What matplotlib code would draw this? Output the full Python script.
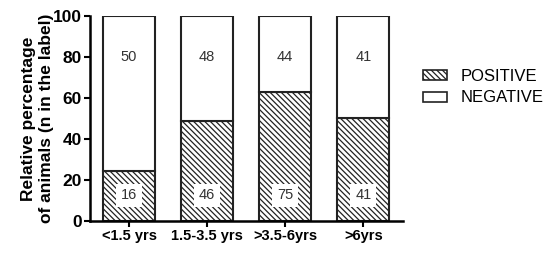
import numpy as np
import matplotlib.pyplot as plt
from matplotlib.patches import Patch

plt.rcParams['font.family'] = ['Liberation Sans', 'DejaVu Sans']
plt.rcParams['hatch.linewidth'] = 0.9

groups = ['<1.5 yrs', '1.5-3.5 yrs', '>3.5-6yrs', '>6yrs']
n_pos = np.array([16, 46, 75, 41])
n_neg = np.array([50, 48, 44, 41])

pct_pos = 100 * n_pos / (n_pos + n_neg)
pct_neg = 100 - pct_pos

hatch = '\\' * 6

fig = plt.figure(figsize=(5.5, 2.54), dpi=100)
ax = fig.add_axes([0.1636, 0.13, 0.733 - 0.1636, 0.807])

x = np.arange(len(groups))
w = 0.67
ax.bar(x, pct_pos, w, color='white', edgecolor='#222222', hatch=hatch, linewidth=1.5)
ax.bar(x, pct_neg, w, bottom=pct_pos, color='white', edgecolor='#222222', linewidth=1.5)

for i in range(len(groups)):
    ax.text(x[i], 12.5, str(n_pos[i]), ha='center', va='center', fontsize=10.5, color='#333333',
            bbox=dict(facecolor='white', edgecolor='none', pad=3.5))
    ax.text(x[i], 80, str(n_neg[i]), ha='center', va='center', fontsize=10.5, color='#333333')

ax.set_ylim(0, 100)
ax.set_xlim(-0.5, 3.51)
ax.set_yticks([0, 20, 40, 60, 80, 100])
ax.set_xticks(x)
ax.set_xticklabels(groups, fontweight='bold', fontsize=10.5)
for lab in ax.get_yticklabels():
    lab.set_fontweight('bold')
    lab.set_fontsize(12.5)
ax.spines['top'].set_visible(False)
ax.spines['right'].set_visible(False)
ax.spines['left'].set_linewidth(1.8)
ax.spines['bottom'].set_linewidth(1.8)
ax.tick_params(width=1.5, length=4, pad=2)
ax.set_ylabel('Relative percentage\nof animals (n in the label)', fontweight='bold', fontsize=12.5,
              linespacing=1.25, labelpad=-1)

handles = [Patch(facecolor='white', edgecolor='#222222', hatch=hatch, linewidth=1.2, label='POSITIVE'),
           Patch(facecolor='white', edgecolor='#222222', linewidth=1.2, label='NEGATIVE')]
fig.legend(handles=handles, loc='upper left', bbox_to_anchor=(0.769, 0.728), frameon=False,
           fontsize=12, handlelength=1.45, handleheight=0.55, handletextpad=0.8, labelspacing=0.38,
           borderpad=0, borderaxespad=0)

fig.savefig('out.png', dpi=100)
